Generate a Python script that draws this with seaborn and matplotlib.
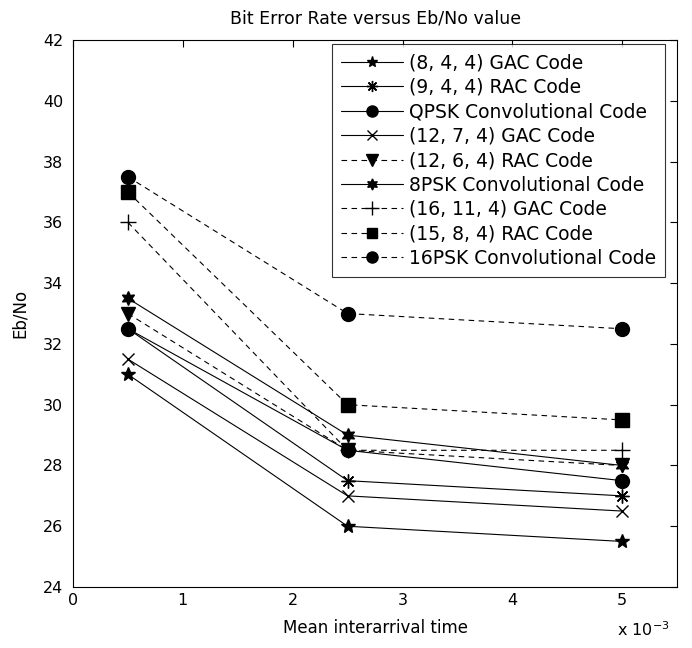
import matplotlib
matplotlib.use("Agg")
import matplotlib.pyplot as plt
from matplotlib.ticker import FuncFormatter, MultipleLocator
import pandas as pd
import seaborn as sns

# Mean interarrival time (seconds)
interarrival = [0.5e-3, 2.5e-3, 5.0e-3]

codes = [
    "(8, 4, 4) GAC Code",
    "(9, 4, 4) RAC Code",
    "QPSK Convolutional Code",
    "(12, 7, 4) GAC Code",
    "(12, 6, 4) RAC Code",
    "8PSK Convolutional Code",
    "(16, 11, 4) GAC Code",
    "(15, 8, 4) RAC Code",
    "16PSK Convolutional Code",
]

gac_8_4_4 = [31.0, 26.0, 25.5]
rac_9_4_4 = [32.5, 27.5, 27.0]
qpsk_conv = [32.5, 28.5, 27.5]
gac_12_7_4 = [31.5, 27.0, 26.5]
rac_12_6_4 = [33.0, 28.5, 28.0]
psk8_conv = [33.5, 29.0, 28.0]
gac_16_11_4 = [36.0, 28.5, 28.5]
rac_15_8_4 = [37.0, 30.0, 29.5]
psk16_conv = [37.5, 33.0, 32.5]

series = [gac_8_4_4, rac_9_4_4, qpsk_conv, gac_12_7_4, rac_12_6_4,
          psk8_conv, gac_16_11_4, rac_15_8_4, psk16_conv]

markers = ["*", (8, 2, 0), "o", "x", "v", (6, 1, 0), "+", "s", "o"]
linestyles = ["-", "-", "-", "-", "--", "-", "--", "--", "--"]
marker_sizes = [10, 10, 10, 9, 10, 10, 12, 9.5, 10]

sns.set_theme(style="white")
plt.rcParams["font.family"] = ["DejaVu Sans"]
plt.rcParams["text.color"] = "black"
plt.rcParams["axes.labelcolor"] = "black"

fig = plt.figure(figsize=(6.92, 6.48), dpi=100)
ax = fig.add_axes([0.1055, 0.0941, 0.873, 0.844])

for name, vals, mk, ls, ms in zip(codes, series, markers, linestyles, marker_sizes):
    df = pd.DataFrame({"time": interarrival, "ebno": vals})
    sns.lineplot(data=df, x="time", y="ebno", color="black", linewidth=0.8,
                 linestyle=ls, dashes=False, marker=mk, markersize=ms,
                 markerfacecolor="black", markeredgecolor="black",
                 markeredgewidth=1.0, label=name, legend=False, ax=ax)

for line, ls in zip(ax.get_lines(), linestyles):
    if ls == "--":
        line.set_dashes((5, 4))

ax.set_xlim(0, 5.5e-3)
ax.set_ylim(24, 42)
ax.xaxis.set_major_locator(MultipleLocator(1e-3))
ax.yaxis.set_major_locator(MultipleLocator(2))
ax.xaxis.set_major_formatter(FuncFormatter(lambda v, p: f"{v * 1e3:g}"))

ax.tick_params(direction="in", length=5, width=0.8, top=True, right=True,
               labelsize=11.5, colors="black", pad=4)
ax.tick_params(axis="y", pad=7)
for s in ax.spines.values():
    s.set_color("black")
    s.set_linewidth(0.8)

ax.set_title("Bit Error Rate versus Eb/No value", fontsize=12.5, pad=12,
             color="black")
ax.set_xlabel("Mean interarrival time", fontsize=12, labelpad=8)
ax.set_ylabel("Eb/No", fontsize=12, labelpad=10)
fig.text(0.892, 0.018, r"x 10$^{-3}$", fontsize=11.5, ha="left")

handles = ax.get_lines()[:len(codes)]
leg = ax.legend(handles, codes, loc="upper right", bbox_to_anchor=(0.980, 0.993),
                fontsize=13.5, frameon=True, fancybox=False, edgecolor="black",
                borderpad=0.5, labelspacing=0.29, handlelength=3.3,
                handletextpad=0.3, borderaxespad=0.0, markerscale=0.8)
leg.get_frame().set_linewidth(0.8)
for t in leg.get_texts():
    t.set_color("black")

fig.savefig("out.png", dpi=100)
